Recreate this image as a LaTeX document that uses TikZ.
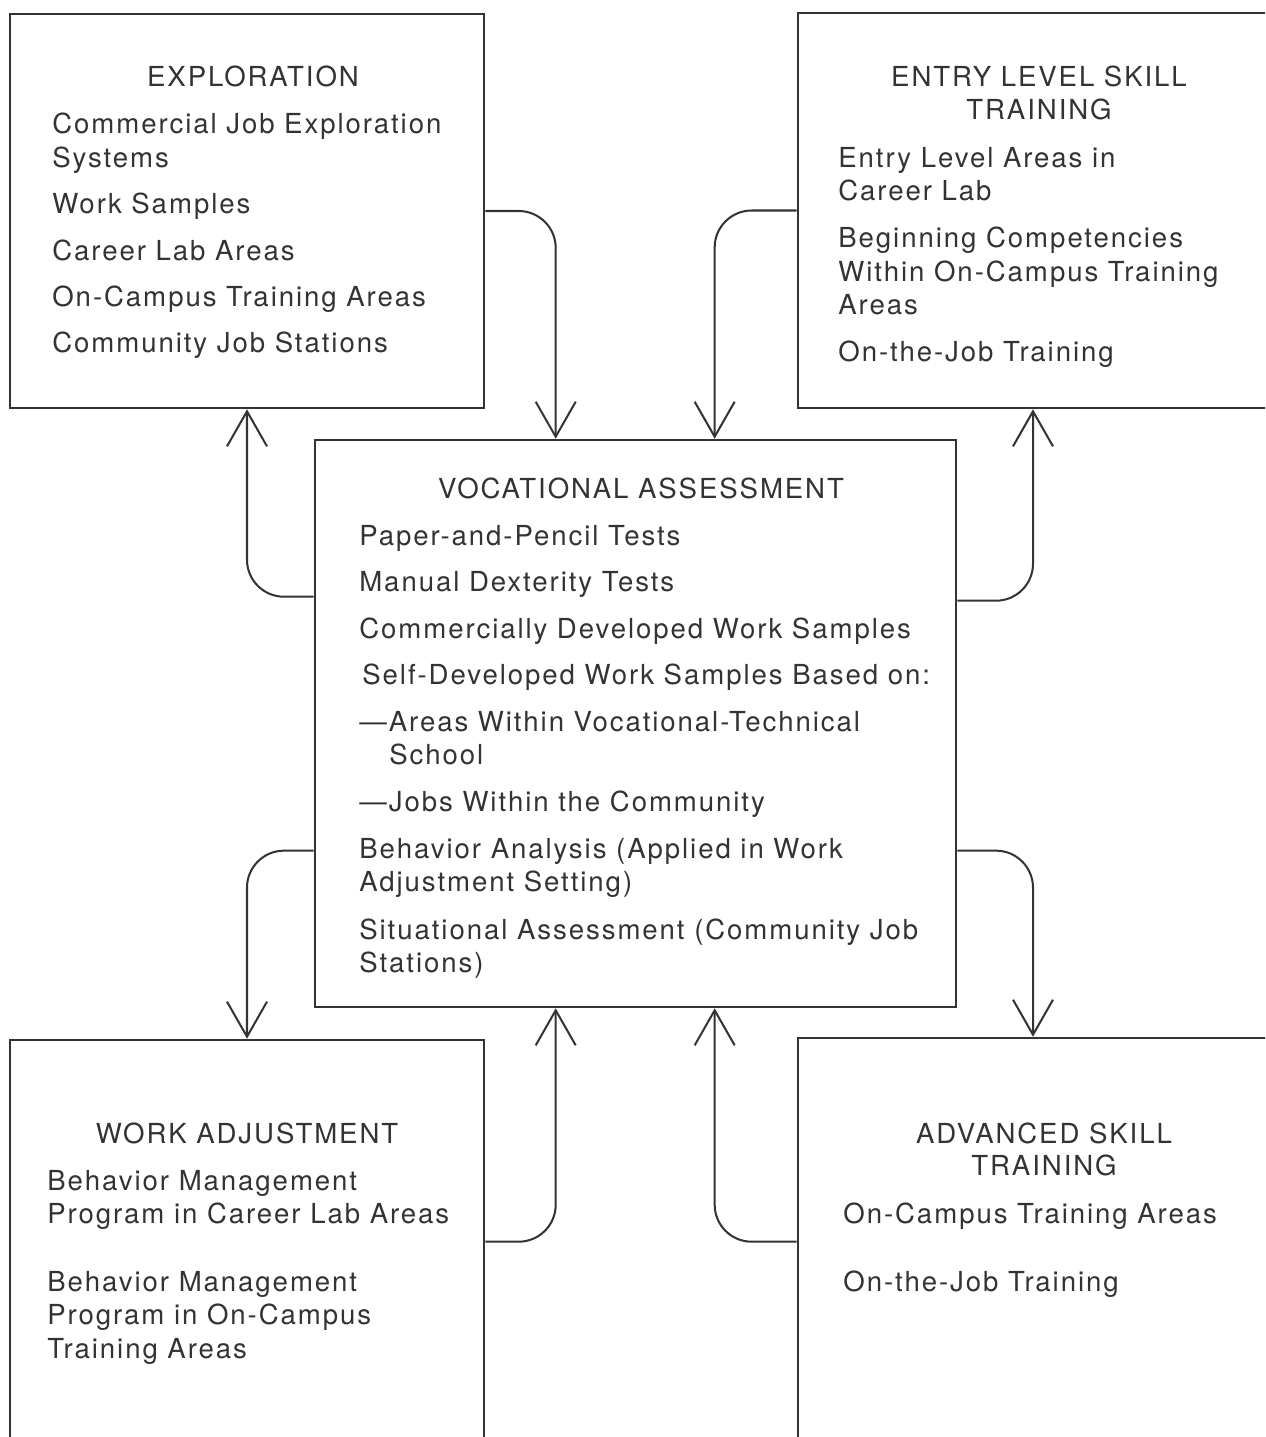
\documentclass[tikz,border=0pt]{standalone}
\usepackage{fontspec}
\setmainfont{TeX Gyre Heros}[LetterSpace=7]
\usetikzlibrary{arrows.meta}
\definecolor{ink}{gray}{0.2}
\tikzset{
  box/.style={draw=ink, line width=1.5pt, inner sep=0pt, minimum width=9.48cm, minimum height=7.88cm},
  link/.style={draw=ink, line width=1.15pt, rounded corners=0.74cm, -{Straight Barb[length=0.7cm,width=0.8cm]}},
  txt/.style={anchor=base west, inner sep=0pt, text=ink, font=\fontsize{15.7}{18}\selectfont},
  ttl/.style={txt, anchor=base},
}

\begin{document}
\begin{tikzpicture}[x=0.02cm, y=-0.02cm]
\path[use as bounding box, clip] (0,0) rectangle (1265,1437);

% the five boxes
\node[box] (expl) at (247,211) {};
\node[box, minimum width=9.4cm, minimum height=7.9cm] (entry) at (1033,210.5) {};
\node[box, minimum width=12.82cm, minimum height=11.34cm] (voc) at (635.5,723.5) {};
\node[box, minimum height=8.1cm] (wadj) at (247,1242.5) {};
\node[box, minimum width=9.4cm, minimum height=8.14cm] (adv) at (1033,1241.5) {};

% exploration
\node[ttl] (exT) at (253,86) {EXPLORATION};
\foreach \y/\t in {133/Commercial Job Exploration, 167/Systems, 213/Work Samples,
                   260/Career Lab Areas, 306/On-Campus Training Areas, 352/Community Job Stations}
  \node[txt] (ex\y) at (52,\y) {\t};

% entry level skill training
\node[ttl] (enT1) at (1039,86) {ENTRY LEVEL SKILL};
\node[ttl] (enT2) at (1039,119) {TRAINING};
\foreach \y/\t in {167/Entry Level Areas in, 200/Career Lab, 247/Beginning Competencies,
                   281/Within On-Campus Training, 314/Areas, 361/On-the-Job Training}
  \node[txt] (en\y) at (838,\y) {\t};

% vocational assessment
\node[ttl] (vaT) at (641,498) {VOCATIONAL ASSESSMENT};
\foreach \y/\t in {545/Paper-and-Pencil Tests, 591/Manual Dexterity Tests,
                   638/Commercially Developed Work Samples,
                   731/—Areas Within Vocational-Technical, 811/—Jobs Within the Community,
                   858/Behavior Analysis (Applied in Work, 891/Adjustment Setting),
                   939/Situational Assessment (Community Job, 972/Stations)}
  \node[txt] (va\y) at (359,\y) {\t};
\node[txt] (va684) at (362,684) {Self-Developed Work Samples Based on:};
\node[txt] (va764) at (389,764) {School};

% work adjustment
\node[ttl] (waT) at (247,1143) {WORK ADJUSTMENT};
\foreach \y/\t in {1190/Behavior Management, 1223/Program in Career Lab Areas,
                   1291/Behavior Management, 1324/Program in On-Campus, 1358/Training Areas}
  \node[txt] (wa\y) at (47,\y) {\t};

% advanced skill training
\node[ttl] (adT1) at (1044,1143) {ADVANCED SKILL};
\node[ttl] (adT2) at (1044,1175) {TRAINING};
\node[txt] (ad1223) at (843,1223) {On-Campus Training Areas};
\node[txt] (ad1291) at (843,1291) {On-the-Job Training};

% connectors
\draw[link] (expl.east) -| ([xshift=4.84cm]voc.north west);
\draw[link] (entry.west) -| ([xshift=8.02cm]voc.north west);
\draw[link] ([yshift=-3.16cm]voc.north west) -| (expl.south);
\draw[link] ([yshift=-3.24cm]voc.north east) -| (entry.south);
\draw[link] ([yshift=-8.24cm]voc.north west) -| (wadj.north);
\draw[link] ([yshift=-8.24cm]voc.north east) -| (adv.north);
\draw[link] ([yshift=-4.06cm]wadj.north east) -| ([xshift=4.84cm]voc.south west);
\draw[link] ([yshift=-4.1cm]adv.north west) -| ([xshift=8.02cm]voc.south west);
\end{tikzpicture}
\end{document}
